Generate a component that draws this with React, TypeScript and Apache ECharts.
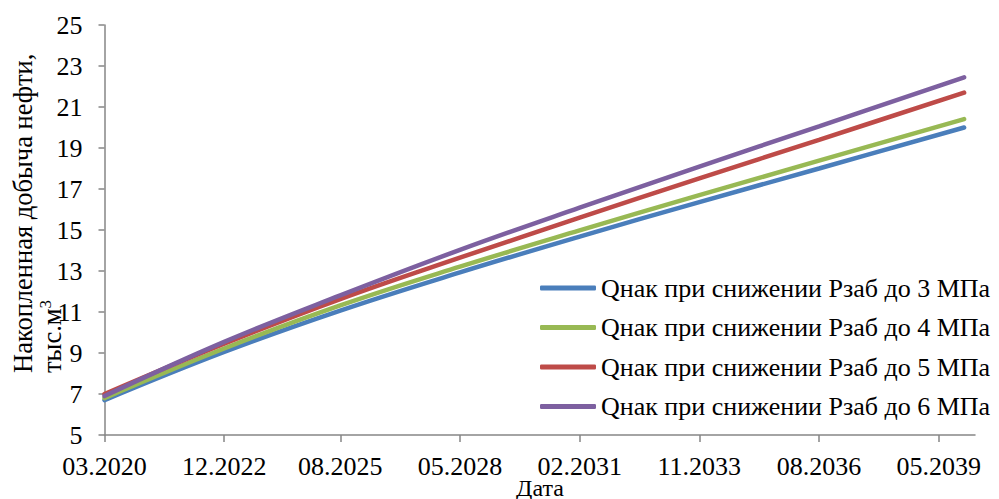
import React, { useEffect, useRef } from "react";
import * as echarts from "echarts";

// month index counted from 03.2020
const months = [0, 33, 65, 98, 131, 164, 197, 237];
const tickMonths = [0, 33, 65, 98, 131, 164, 197, 230];
const tickLabels = ["03.2020", "12.2022", "08.2025", "05.2028", "02.2031", "11.2033", "08.2036", "05.2039"];

const seriesNames = [
  "Qнак при снижении Рзаб до 3 МПа",
  "Qнак при снижении Рзаб до 4 МПа",
  "Qнак при снижении Рзаб до 5 МПа",
  "Qнак при снижении Рзаб до 6 МПа",
];
const q3 = [6.7, 9.05, 11.07, 12.93, 14.68, 16.36, 18.0, 20.0];
const q4 = [6.8, 9.22, 11.32, 13.21, 14.98, 16.7, 18.38, 20.41];
const q5 = [7.0, 9.45, 11.63, 13.65, 15.6, 17.52, 19.4, 21.7];
const q6 = [6.9, 9.54, 11.81, 14.03, 16.09, 18.09, 20.06, 22.45];
const colors = ["#4A7EBB", "#98B954", "#BE4B48", "#7D60A0"];

const FONT = "Liberation Serif";

export default function App() {
  const ref = useRef<HTMLDivElement>(null);
  useEffect(() => {
    if (!ref.current) return;
    const chart = echarts.init(ref.current, undefined, { renderer: "svg" });
    const all = [q3, q4, q5, q6];
    chart.setOption({
      animation: false,
      textStyle: { fontFamily: FONT, color: "#000" },
      grid: { left: 104.5, top: 25, right: 24, bottom: 64, containLabel: false, outerBoundsMode: "none" },
      legend: {
        orient: "vertical",
        left: 535,
        top: 270,
        icon: "roundRect",
        itemWidth: 56,
        itemHeight: 5,
        itemGap: 13.5,
        textStyle: { fontFamily: FONT, fontSize: 26, color: "#000" },
        data: seriesNames,
      },
      xAxis: {
        type: "value",
        min: 0,
        max: 240,
        axisLine: { show: true, lineStyle: { color: "#868686", width: 1.5 } },
        axisTick: { show: true, length: 7, customValues: tickMonths, lineStyle: { color: "#868686", width: 1.5 } },
        axisLabel: {
          customValues: tickMonths,
          margin: 18,
          fontSize: 26,
          fontFamily: FONT,
          color: "#000",
          formatter: (v: number) => {
            const i = tickMonths.indexOf(Math.round(v));
            return i >= 0 ? tickLabels[i] : "";
          },
        },
        splitLine: { show: false },
      },
      yAxis: {
        type: "value",
        min: 5,
        max: 25,
        interval: 2,
        axisLine: { show: true, lineStyle: { color: "#868686", width: 1.5 } },
        axisTick: { show: true, length: 6, lineStyle: { color: "#868686", width: 1.5 } },
        axisLabel: { margin: 22, fontSize: 26, fontFamily: FONT, color: "#000" },
        splitLine: { show: false },
      },
      graphic: [
        {
          type: "text",
          x: 23,
          y: 373,
          rotation: Math.PI / 2,
          style: {
            text: "Накопленная добыча нефти,",
            fontFamily: FONT,
            fontSize: 26.5,
            fill: "#000",
            align: "left",
            verticalAlign: "middle",
          },
        },
        {
          type: "text",
          x: 52,
          y: 373,
          rotation: Math.PI / 2,
          style: {
            text: "{a|тыс.м}{b|3}",
            fill: "#000",
            align: "left",
            verticalAlign: "middle",
            rich: {
              a: { fontFamily: FONT, fontSize: 26.5, fill: "#000", lineHeight: 30 },
              b: { fontFamily: FONT, fontSize: 17, fill: "#000", verticalAlign: "top", lineHeight: 30 },
            },
          },
        },
        {
          type: "text",
          x: 540,
          y: 488,
          style: {
            text: "Дата",
            fontFamily: FONT,
            fontSize: 24,
            fill: "#000",
            align: "center",
            verticalAlign: "middle",
          },
        },
      ],
      series: seriesNames.map((name, k) => ({
        name,
        type: "line",
        data: months.map((m, i) => [m, all[k][i]]),
        smooth: 0.4,
        symbol: "none",
        showSymbol: false,
        color: colors[k],
        lineStyle: { width: 4.5, color: colors[k], cap: "round" },
      })),
    });
    return () => chart.dispose();
  }, []);
  return <div ref={ref} style={{ width: 999, height: 499, position: "absolute", left: 0, top: 0 }} />;
}
